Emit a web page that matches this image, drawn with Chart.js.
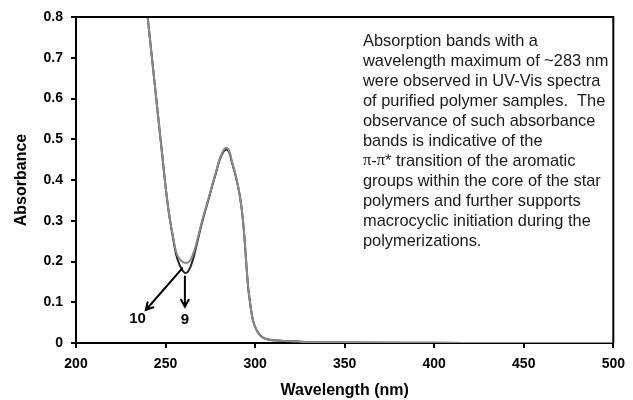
<!DOCTYPE html>
<html>
<head>
<meta charset="utf-8">
<script src="https://cdn.jsdelivr.net/npm/chart.js@4.4.1/dist/chart.umd.min.js"></script>
<style>
  html, body { margin: 0; padding: 0; background: #fff; }
  #c { display: block; }
</style>
</head>
<body>
<canvas id="c" width="633" height="400"></canvas>
<script>
// wavelengths (nm) shared by both spectra
var wavelengths = [234, 236, 238, 240, 243, 246, 248, 250, 252, 254, 256, 258, 260, 261, 262,
    264, 266, 268, 270, 272, 274, 276, 278, 280, 282, 283, 284, 285, 286, 287, 289, 291,
    292.5, 294, 295, 296, 297, 298, 299, 301, 303, 305, 308, 313, 320, 330, 350, 400, 450, 500];

// sample 9 (dark curve)
var absorb9 = [1.08, 0.98, 0.89, 0.80, 0.675, 0.55, 0.467, 0.384, 0.315, 0.262, 0.215, 0.19, 0.175, 0.172, 0.173,
    0.188, 0.216, 0.253, 0.289, 0.322, 0.352, 0.385, 0.415, 0.447, 0.467, 0.473, 0.475, 0.472, 0.462, 0.444, 0.413, 0.372,
    0.33, 0.262, 0.2, 0.142, 0.105, 0.074, 0.052, 0.03, 0.018, 0.012, 0.008, 0.006, 0.004, 0.002, 0.001, 0.0005, 0, 0];

// sample 10 (grey curve)
var absorb10 = [1.08, 0.98, 0.89, 0.80, 0.675, 0.55, 0.467, 0.384, 0.316, 0.265, 0.222, 0.205, 0.198, 0.197, 0.197,
    0.205, 0.226, 0.258, 0.293, 0.325, 0.355, 0.387, 0.417, 0.449, 0.47, 0.477, 0.479, 0.476, 0.466, 0.447, 0.414, 0.373,
    0.33, 0.262, 0.2, 0.142, 0.105, 0.074, 0.052, 0.03, 0.018, 0.012, 0.008, 0.006, 0.004, 0.002, 0.001, 0.0005, 0, 0];

var xTicks = [200, 250, 300, 350, 400, 450, 500];
var yTicks = [0, 0.1, 0.2, 0.3, 0.4, 0.5, 0.6, 0.7, 0.8];

var noteLines = [
    'Absorption bands with a',
    'wavelength maximum of ~283 nm',
    'were observed in UV-Vis spectra',
    'of purified polymer samples.  The',
    'observance of such absorbance',
    'bands is indicative of the',
    'PI_LINE',
    'groups within the core of the star',
    'polymers and further supports',
    'macrocyclic initiation during the',
    'polymerizations.'
];

function toPoints(xs, ys) {
    return xs.map(function (x, i) { return { x: x, y: ys[i] }; });
}

function arrow(ctx, x1, y1, x2, y2) {
    var ang = Math.atan2(y2 - y1, x2 - x1);
    var h = 8;
    ctx.beginPath();
    ctx.moveTo(x1, y1);
    ctx.lineTo(x2, y2);
    ctx.moveTo(x2 - h * Math.cos(ang - 0.5), y2 - h * Math.sin(ang - 0.5));
    ctx.lineTo(x2, y2);
    ctx.lineTo(x2 - h * Math.cos(ang + 0.5), y2 - h * Math.sin(ang + 0.5));
    ctx.stroke();
}

var extras = {
    id: 'extras',
    afterDraw: function (chart) {
        var ctx = chart.ctx, a = chart.chartArea;
        var sx = chart.scales.x, sy = chart.scales.y;
        ctx.save();
        // top and right frame
        ctx.strokeStyle = '#000';
        ctx.lineWidth = 2;
        ctx.beginPath();
        ctx.moveTo(a.left, a.top);
        ctx.lineTo(a.right, a.top);
        ctx.lineTo(a.right, a.bottom);
        ctx.stroke();

        // arrows pointing at the two minima
        ctx.lineWidth = 2;
        ctx.lineCap = 'round';
        arrow(ctx, sx.getPixelForValue(259.3), sy.getPixelForValue(0.183),
                   sx.getPixelForValue(239.0), sy.getPixelForValue(0.081));
        arrow(ctx, sx.getPixelForValue(260.8), sy.getPixelForValue(0.163),
                   sx.getPixelForValue(260.8), sy.getPixelForValue(0.089));
        ctx.fillStyle = '#000';
        ctx.font = 'bold 15px "Liberation Sans", Arial, sans-serif';
        ctx.textAlign = 'center';
        ctx.textBaseline = 'middle';
        ctx.fillText('10', sx.getPixelForValue(234.4), sy.getPixelForValue(0.06));
        ctx.fillText('9', sx.getPixelForValue(260.8), sy.getPixelForValue(0.058));

        // note text
        ctx.fillStyle = '#1a1a1a';
        ctx.textAlign = 'left';
        var sans = '16.4px "Liberation Sans", Arial, sans-serif';
        var serif = '16.4px "Liberation Serif", "Times New Roman", serif';
        noteLines.forEach(function (t, i) {
            var y = 41 + i * 20, x = 363;
            if (t === 'PI_LINE') {
                var parts = [['\u03c0', serif], ['-', sans], ['\u03c0', serif], ['* transition of the aromatic', sans]];
                parts.forEach(function (p) {
                    ctx.font = p[1];
                    ctx.fillText(p[0], x, y);
                    x += ctx.measureText(p[0]).width;
                });
            } else {
                ctx.font = sans;
                ctx.fillText(t, x, y);
            }
        });
        ctx.restore();
    }
};

var tickFont = { family: '"Liberation Sans", Arial, sans-serif', size: 14, weight: 'bold' };
var titleFont = { family: '"Liberation Sans", Arial, sans-serif', size: 16, weight: 'bold' };

new Chart(document.getElementById('c'), {
    type: 'line',
    data: {
        datasets: [
            { label: '10', data: toPoints(wavelengths, absorb10), borderColor: '#8a8a8a', borderWidth: 2,
              pointRadius: 0, cubicInterpolationMode: 'monotone', fill: false },
            { label: '9', data: toPoints(wavelengths, absorb9), borderColor: '#262626', borderWidth: 2,
              pointRadius: 0, cubicInterpolationMode: 'monotone', fill: false }
        ]
    },
    options: {
        responsive: false,
        animation: false,
        devicePixelRatio: 1,
        layout: { padding: { top: 17, right: 14, left: 0, bottom: 0 } },
        plugins: { legend: { display: false }, tooltip: { enabled: false } },
        scales: {
            x: {
                type: 'linear', min: 200, max: 500,
                afterBuildTicks: function (s) { s.ticks = xTicks.map(function (v) { return { value: v }; }); },
                afterFit: function (s) { s.height = 57; },
                ticks: { font: tickFont, color: '#000', padding: 8, maxRotation: 0 },
                grid: { drawOnChartArea: false, drawTicks: true, tickLength: 5, color: '#000', lineWidth: 2 },
                border: { color: '#000', width: 2 },
                title: { display: true, text: 'Wavelength (nm)', font: titleFont, color: '#000',
                         padding: { top: 0, bottom: 0 } }
            },
            y: {
                min: 0, max: 0.8,
                afterBuildTicks: function (s) { s.ticks = yTicks.map(function (v) { return { value: v }; }); },
                afterFit: function (s) { s.width = 76; },
                ticks: { font: tickFont, color: '#000', padding: 8,
                         callback: function (v) { return String(Math.round(v * 10) / 10); } },
                grid: { drawOnChartArea: false, drawTicks: true, tickLength: 5, color: '#000', lineWidth: 2 },
                border: { color: '#000', width: 2 },
                title: { display: true, text: 'Absorbance', font: titleFont, color: '#000',
                         padding: { top: 12, bottom: 0 } }
            }
        }
    },
    plugins: [extras]
});
</script>
</body>
</html>
